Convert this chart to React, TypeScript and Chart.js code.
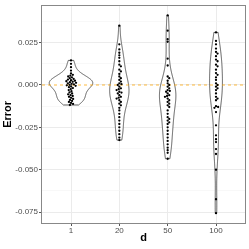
import React, { useEffect, useRef } from "react";
import { Chart, registerables } from "chart.js";
Chart.register(...registerables);

const categories = ["1", "20", "50", "100"];

const errorsD1 = [
  0.0145, 0.0125, 0.0105, 0.0085, 0.0068, 0.006, 0.0055, 0.005, 0.0045, 0.004,
  0.0036, 0.0032, 0.0028, 0.0025, 0.0022, 0.0019, 0.0016, 0.0013, 0.001, 0.0007,
  0.0004, 0.0001, -0.0002, -0.0005, -0.0009, -0.0013, -0.0018, -0.0024, -0.003,
  -0.0037, -0.0044, -0.005, -0.0055, -0.006, -0.0065, -0.007, -0.0076, -0.0082,
  -0.0088, -0.0094, -0.01, -0.0106, -0.0112, -0.0118,
];
const errorsD20 = [
  0.035, 0.024, 0.021, 0.019, 0.0175, 0.016, 0.014, 0.012, 0.011, 0.009, 0.008,
  0.0065, 0.005, 0.004, 0.003, 0.002, 0.001, 0.0005, 0.0, -0.001, -0.002, -0.0025,
  -0.003, -0.004, -0.0045, -0.005, -0.006, -0.007, -0.0075, -0.008, -0.009, -0.01,
  -0.011, -0.012, -0.0135, -0.015, -0.017, -0.019, -0.021, -0.023, -0.025, -0.027,
  -0.029, -0.031, -0.0325,
];
const errorsD50 = [
  0.041, 0.032, 0.027, 0.0255, 0.0155, 0.0115, 0.005, 0.004, 0.0025, 0.001, 0.0,
  -0.001, -0.002, -0.003, -0.0035, -0.004, -0.005, -0.006, -0.0065, -0.007, -0.008,
  -0.009, -0.01, -0.011, -0.012, -0.013, -0.015, -0.017, -0.019, -0.02, -0.021,
  -0.022, -0.023, -0.025, -0.027, -0.029, -0.031, -0.033, -0.035, -0.037, -0.0385,
  -0.04, -0.0435,
];
const errorsD100 = [
  0.031, 0.026, 0.024, 0.0215, 0.0195, 0.0185, 0.017, 0.015, 0.014, 0.012, 0.011,
  0.009, 0.007, 0.006, 0.0045, 0.003, 0.001, 0.0, -0.001, -0.002, -0.003, -0.005,
  -0.007, -0.008, -0.009, -0.0125, -0.013, -0.0135, -0.016, -0.0238, -0.0297,
  -0.032, -0.0337, -0.0378, -0.0407, -0.05, -0.0674, -0.0756,
];
const groups = [errorsD1, errorsD20, errorsD50, errorsD100];

const yMajorTicks = [-0.075, -0.05, -0.025, 0, 0.025];
const yMinorTicks = [-0.0625, -0.0375, -0.0125, 0.0125, 0.0375];
const referenceLine = 0;

const FONT = "'Liberation Sans', Arial, Helvetica, sans-serif";

function nrd0(x: number[]) {
  const n = x.length;
  const s = [...x].sort((a, b) => a - b);
  const mean = x.reduce((a, b) => a + b, 0) / n;
  const sd = Math.sqrt(x.reduce((a, b) => a + (b - mean) ** 2, 0) / (n - 1));
  const q = (p: number) => {
    const h = (n - 1) * p;
    const lo = Math.floor(h);
    return s[lo] + (h - lo) * (s[Math.min(lo + 1, n - 1)] - s[lo]);
  };
  const iqr = q(0.75) - q(0.25);
  let lo = Math.min(sd, iqr / 1.34);
  if (!lo) lo = sd || 1;
  return 0.9 * lo * Math.pow(n, -0.2);
}

function kde(x: number[], n = 256) {
  const bw = nrd0(x);
  const min = Math.min(...x);
  const max = Math.max(...x);
  const out: { y: number; d: number }[] = [];
  for (let i = 0; i < n; i++) {
    const y = min + ((max - min) * i) / (n - 1);
    let d = 0;
    for (const v of x) {
      const z = (y - v) / bw;
      d += Math.exp(-0.5 * z * z);
    }
    d /= x.length * bw * Math.sqrt(2 * Math.PI);
    out.push({ y, d });
  }
  return out;
}

function swarm(ys: number[], d: number): number[] {
  const idx = ys.map((_, i) => i).sort((a, b) => ys[a] - ys[b]);
  const placed: { x: number; y: number }[] = [];
  const xs = new Array(ys.length).fill(0);
  for (const i of idx) {
    const yi = ys[i];
    const near = placed.filter((p) => Math.abs(p.y - yi) < d);
    const cands = [0];
    for (const p of near) {
      const dx = Math.sqrt(d * d - (p.y - yi) ** 2);
      cands.push(p.x + dx, p.x - dx);
    }
    cands.sort((a, b) => Math.abs(a) - Math.abs(b));
    let chosen = 0;
    for (const c of cands) {
      if (near.every((p) => (p.x - c) ** 2 + (p.y - yi) ** 2 >= d * d - 1e-6)) {
        chosen = c;
        break;
      }
    }
    xs[i] = chosen;
    placed.push({ x: chosen, y: yi });
  }
  return xs;
}

const isMajor = (v: number) => yMajorTicks.some((t) => Math.abs(t - v) < 1e-9);

const violinPlugin = {
  id: "violins",
  beforeDatasetsDraw(chart: any) {
    const { ctx, chartArea } = chart;
    const xs = chart.scales.x;
    const ys = chart.scales.y;
    const dens = groups.map((g) => kde(g));
    const maxD = Math.max(...dens.flatMap((a) => a.map((p) => p.d)));
    ctx.save();
    ctx.beginPath();
    ctx.rect(chartArea.left, chartArea.top, chartArea.width, chartArea.height);
    ctx.clip();
    dens.forEach((pts, i) => {
      ctx.beginPath();
      pts.forEach((p, k) => {
        const px = xs.getPixelForValue(i + (0.45 * p.d) / maxD);
        const py = ys.getPixelForValue(p.y);
        if (k) ctx.lineTo(px, py);
        else ctx.moveTo(px, py);
      });
      for (let k = pts.length - 1; k >= 0; k--) {
        const p = pts[k];
        ctx.lineTo(xs.getPixelForValue(i - (0.45 * p.d) / maxD), ys.getPixelForValue(p.y));
      }
      ctx.closePath();
      ctx.fillStyle = "#ffffff";
      ctx.fill();
      ctx.strokeStyle = "#333333";
      ctx.lineWidth = 0.8;
      ctx.stroke();
    });
    const y0 = ys.getPixelForValue(referenceLine);
    ctx.beginPath();
    ctx.setLineDash([3, 3]);
    ctx.strokeStyle = "rgba(255,165,0,0.5)";
    ctx.lineWidth = 1.5;
    ctx.moveTo(chartArea.left, y0);
    ctx.lineTo(chartArea.right, y0);
    ctx.stroke();
    ctx.restore();
  },
  afterDraw(chart: any) {
    const { ctx, chartArea } = chart;
    ctx.save();
    ctx.strokeStyle = "#888888";
    ctx.lineWidth = 1;
    ctx.strokeRect(
      Math.round(chartArea.left) - 0.5,
      Math.round(chartArea.top) - 0.5,
      Math.round(chartArea.width) + 1,
      Math.round(chartArea.height) + 1
    );
    ctx.restore();
  },
};

export default function App() {
  const ref = useRef<HTMLCanvasElement>(null);
  useEffect(() => {
    if (!ref.current) return;
    const chart = new Chart(ref.current, {
      type: "scatter",
      data: {
        datasets: groups.map((g, i) => ({
          data: g.map((v) => ({ x: i, y: v })),
          pointRadius: 1.15,
          pointBackgroundColor: "#000000",
          pointBorderWidth: 0,
          showLine: false,
        })),
      },
      options: {
        animation: false,
        responsive: false,
        devicePixelRatio: 1,
        layout: { padding: { top: 2, right: 3, left: 0, bottom: 0 } },
        plugins: { legend: { display: false }, tooltip: { enabled: false } },
        scales: {
          x: {
            type: "linear",
            min: -0.6,
            max: 3.6,
            afterBuildTicks: (s: any) => {
              s.ticks = categories.map((_, i) => ({ value: i }));
            },
            afterFit: (s: any) => {
              s.height = 26;
            },
            ticks: {
              callback: (v: any) => categories[Math.round(Number(v))],
              font: { family: FONT, size: 8 },
              color: "#4D4D4D",
              padding: 0,
              autoSkip: false,
              maxRotation: 0,
            },
            grid: { color: "#EBEBEB", lineWidth: 1, tickLength: 3, tickColor: "#555555" },
            border: { display: false },
            title: {
              display: true,
              text: "d",
              font: { family: FONT, size: 11, weight: "bold" },
              color: "#000000",
              padding: { top: 0, bottom: 4 },
            },
          },
          y: {
            type: "linear",
            min: -0.0814,
            max: 0.0467,
            afterBuildTicks: (s: any) => {
              s.ticks = [...yMajorTicks, ...yMinorTicks]
                .sort((a, b) => a - b)
                .map((v) => ({ value: v }));
            },
            afterFit: (s: any) => {
              s.width = 42;
            },
            ticks: {
              callback: (v: any) => (isMajor(Number(v)) ? Number(v).toFixed(3) : ""),
              font: { family: FONT, size: 8 },
              color: "#4D4D4D",
              padding: 1,
              autoSkip: false,
            },
            grid: {
              color: (c: any) => (isMajor(c.tick?.value) ? "#EBEBEB" : "#F3F3F3"),
              lineWidth: (c: any) => (isMajor(c.tick?.value) ? 1 : 0.6),
              tickLength: 3,
              tickColor: (c: any) => (isMajor(c.tick?.value) ? "#555555" : "rgba(0,0,0,0)"),
            },
            border: { display: false },
            title: {
              display: true,
              text: "Error",
              font: { family: FONT, size: 11, weight: "bold" },
              color: "#000000",
              padding: { top: 1.5, bottom: 0 },
            },
          },
        },
      },
      plugins: [violinPlugin],
    } as any);

    const xs: any = chart.scales.x;
    const ys: any = chart.scales.y;
    const unit = xs.getPixelForValue(1) - xs.getPixelForValue(0);
    groups.forEach((g, i) => {
      const py = g.map((v) => ys.getPixelForValue(v));
      const off = swarm(py, 2.3);
      (chart.data.datasets[i] as any).data = g.map((v, k) => ({ x: i + off[k] / unit, y: v }));
    });
    chart.update();

    return () => chart.destroy();
  }, []);

  return (
    <div style={{ position: "absolute", left: 0, top: 0, width: 249, height: 249, background: "#fff" }}>
      <canvas ref={ref} width={249} height={249} style={{ width: 249, height: 249 }} />
    </div>
  );
}
